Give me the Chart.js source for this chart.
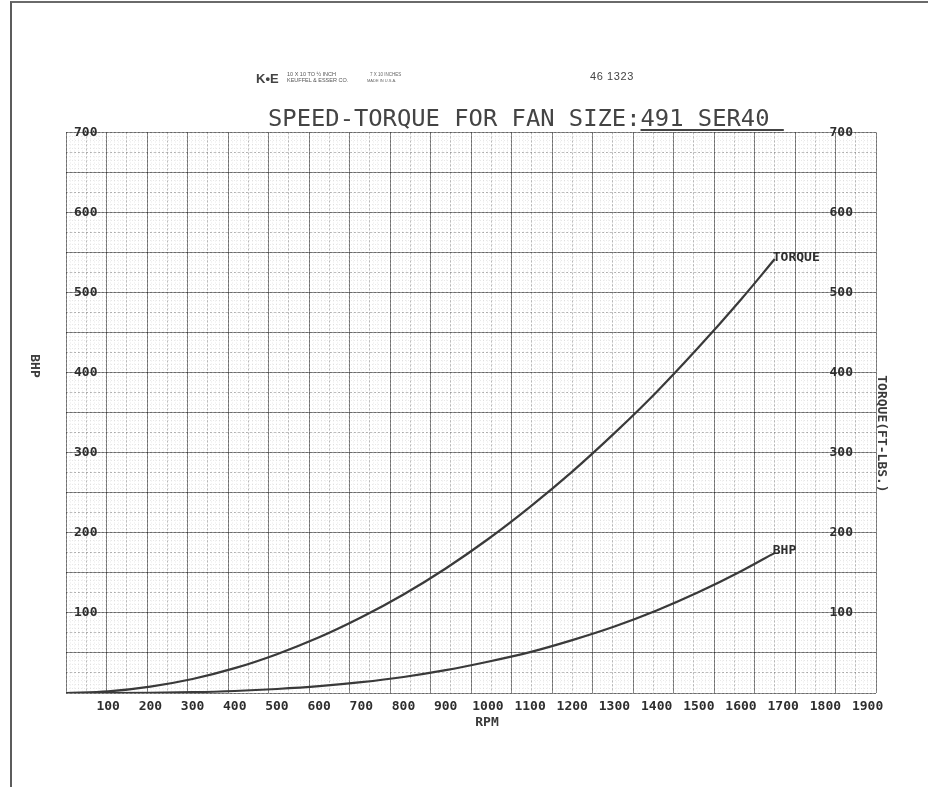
<!DOCTYPE html>
<html>
<head>
<meta charset="utf-8">
<script src="https://cdn.jsdelivr.net/npm/chart.js@4.4.0/dist/chart.umd.min.js"></script>
<style>
  html, body { margin: 0; padding: 0; background: #fff; }
  body { width: 928px; height: 787px; position: relative; overflow: hidden; }
  #sheet { position: absolute; left: 10px; top: 1px; width: 918px; height: 790px;
           border-left: 2px solid #5c5c5c; border-top: 2px solid #6a6a6a; box-sizing: border-box; }
  #c { position: absolute; left: 0; top: 0; }
  .t { position: absolute; white-space: pre; color: #3a3a3a; }
  .mono { font-family: "DejaVu Sans Mono", monospace; }
  .rot { transform: rotate(90deg); transform-origin: center center; text-align: center; }
</style>
</head>
<body>
<div id="sheet"></div>
<canvas id="c" width="928" height="787"></canvas>

<div class="t" style="left:256px;top:72px;font:bold 13px 'Liberation Sans';line-height:13px;color:#444">K•E</div>
<div class="t" style="left:287px;top:72px;font:5.5px 'Liberation Sans';line-height:5.5px;color:#555">10 X 10 TO ½ INCH</div>
<div class="t" style="left:287px;top:78px;font:5.5px 'Liberation Sans';line-height:5.5px;color:#555">KEUFFEL &amp; ESSER CO.</div>
<div class="t" style="left:370px;top:72px;font:4.5px 'Liberation Sans';line-height:5.5px;color:#666">7 X 10 INCHES</div>
<div class="t" style="left:367px;top:78px;font:4px 'Liberation Sans';line-height:5.5px;color:#666">MADE IN U.S.A.</div>
<div class="t" style="left:590px;top:71px;font:11px 'Liberation Sans';line-height:11px;letter-spacing:0.6px;color:#444">46 1323</div>

<div class="t mono" style="left:268px;top:106px;font-size:23.8px;line-height:24px;color:#444">SPEED-TORQUE FOR FAN SIZE:<span style="text-decoration:underline;text-underline-offset:3px">491 SER40 </span></div>

<div class="t mono rot" style="left:15px;top:358px;width:40px;height:16px;font-weight:bold;font-size:13px;line-height:16px">BHP</div>
<div class="t mono rot" style="left:817px;top:426px;width:130px;height:16px;font-weight:bold;font-size:13px;line-height:16px">TORQUE(FT-LBS.)</div>
<div class="t mono" style="left:467px;top:714px;width:40px;text-align:center;font-weight:bold;font-size:13px;line-height:16px">RPM</div>

<script>
// Fan speed (RPM) and the two plotted quantities
const RPM    = [0, 100, 200, 300, 400, 500, 600, 700, 800, 900, 1000, 1100, 1200, 1300, 1400, 1500, 1600, 1680];
const TORQUE = [0, 2, 8, 17.5, 31, 48.5, 69.5, 94.5, 123, 155.5, 192, 232.5, 276.5, 324.5, 376, 432, 491.5, 542];
const BHP    = [0, 0, 0.3, 1, 2.5, 5, 8.5, 13.5, 20, 28.5, 39, 51, 66, 83, 103, 126, 152, 175];

// Tick labels
const X_TICKS = [100, 200, 300, 400, 500, 600, 700, 800, 900, 1000, 1100, 1200, 1300, 1400, 1500, 1600, 1700, 1800, 1900];
const Y_TICKS = [100, 200, 300, 400, 500, 600, 700];

const INK = '#2e2e2e';
const TICK_FONT = { family: 'DejaVu Sans Mono', size: 13, weight: 'bold' };

// Graph-paper rulings: 10 x 10 to the half inch, drawn as gridlines of unlabeled scales
function paperAxis(pos, max, color, dash) {
  return {
    type: 'linear', position: pos, min: 0, max: max,
    ticks: { display: false, stepSize: 1, padding: 0 },
    grid: { color: color, lineWidth: 1, drawTicks: false },
    border: { display: false, dash: dash }
  };
}

// Curve names written at the end of each curve
const endLabels = {
  id: 'endLabels',
  afterDatasetsDraw(chart) {
    const ctx = chart.ctx;
    ctx.save();
    ctx.font = 'bold 13px "DejaVu Sans Mono"';
    ctx.fillStyle = INK;
    ctx.textAlign = 'left';
    ctx.textBaseline = 'alphabetic';
    chart.data.datasets.forEach((ds, i) => {
      const pts = chart.getDatasetMeta(i).data;
      const p = pts[pts.length - 1];
      ctx.fillText(ds.label, p.x - 2, p.y + 1.5);
    });
    ctx.restore();
  }
};

const fixedTicks = list => axis => { axis.ticks = list.map(v => ({ value: v })); };
// value labels sit inside the plot, so the side scales take no room of their own
const noWidth = axis => { axis.width = 0; };

new Chart(document.getElementById('c'), {
  type: 'line',
  data: {
    datasets: [
      {
        label: 'BHP', xAxisID: 'x', yAxisID: 'yL',
        data: RPM.map((r, i) => ({ x: r, y: BHP[i] })),
        borderColor: '#3a3a3a', borderWidth: 2.2, pointRadius: 0,
        cubicInterpolationMode: 'monotone', fill: false
      },
      {
        label: 'TORQUE', xAxisID: 'x', yAxisID: 'yR',
        data: RPM.map((r, i) => ({ x: r, y: TORQUE[i] })),
        borderColor: '#3a3a3a', borderWidth: 2.2, pointRadius: 0,
        cubicInterpolationMode: 'monotone', fill: false
      }
    ]
  },
  options: {
    responsive: false,
    animation: false,
    devicePixelRatio: 1,
    layout: { padding: { left: 66, right: 52, top: 132.5, bottom: 66.4 } },
    plugins: { legend: { display: false }, tooltip: { enabled: false }, title: { display: false } },
    scales: {
      gxMinor: paperAxis('bottom', 200, 'rgba(0,0,0,0.09)', [1, 2]),
      gyMinor: paperAxis('left', 140, 'rgba(0,0,0,0.09)', [1, 2]),
      gxMid:   paperAxis('bottom', 40, 'rgba(0,0,0,0.25)', [2, 2]),
      gyMid:   paperAxis('left', 28, 'rgba(0,0,0,0.25)', [2, 2]),
      gxMajor: paperAxis('bottom', 20, 'rgba(0,0,0,0.42)', []),
      gyMajor: paperAxis('left', 14, 'rgba(0,0,0,0.42)', []),
      x: {
        type: 'linear', position: 'bottom', min: 0, max: 1920,
        grid: { display: false, drawTicks: false }, border: { display: false },
        afterBuildTicks: fixedTicks(X_TICKS),
        ticks: { autoSkip: false, maxRotation: 0, padding: 6, color: INK, font: TICK_FONT,
                 callback: v => String(v) }
      },
      yL: {
        type: 'linear', position: 'left', min: 0, max: 700,
        grid: { display: false, drawTicks: false }, border: { display: false },
        afterBuildTicks: fixedTicks(Y_TICKS), afterFit: noWidth,
        ticks: { mirror: true, padding: 8, color: INK, font: TICK_FONT, callback: v => String(v) }
      },
      yR: {
        type: 'linear', position: 'right', min: 0, max: 700,
        grid: { display: false, drawTicks: false }, border: { display: false },
        afterBuildTicks: fixedTicks(Y_TICKS), afterFit: noWidth,
        ticks: { mirror: true, padding: -23, color: INK, font: TICK_FONT, callback: v => String(v) }
      }
    }
  },
  plugins: [endLabels]
});
</script>
</body>
</html>
